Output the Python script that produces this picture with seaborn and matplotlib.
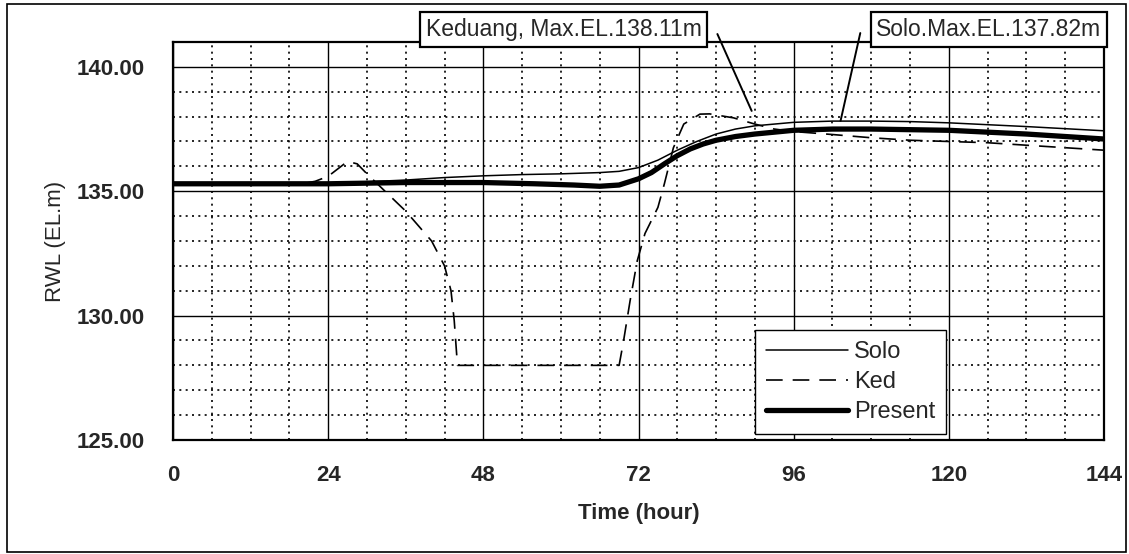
import numpy as np
import pandas as pd
import seaborn as sns
import matplotlib.pyplot as plt
from matplotlib.patches import Rectangle
from matplotlib.ticker import MultipleLocator, FormatStrFormatter

# reservoir water level (EL.m) vs time (hour)
solo_h = [0, 12, 24, 30, 36, 42, 48, 54, 60, 66, 69, 72, 75, 78, 81, 84, 87, 90, 96, 102, 108, 114, 120, 132, 144]
solo_v = [135.3, 135.3, 135.32, 135.38, 135.45, 135.55, 135.62, 135.67, 135.7, 135.75, 135.8, 135.95, 136.25,
          136.65, 137.0, 137.3, 137.5, 137.63, 137.77, 137.82, 137.82, 137.8, 137.75, 137.6, 137.43]

ked_h = [0, 20, 22, 24, 25.5, 27, 28.5, 30, 32, 34, 36, 38, 40, 42, 43, 43.5, 44, 69, 69.7, 70.7, 71.8, 73, 75,
         76, 77.4, 79, 81.5, 83, 86.7, 90, 93, 96, 102, 108, 114, 120, 126, 132, 138, 144]
ked_v = [135.3, 135.3, 135.4, 135.6, 135.9, 136.2, 136.1, 135.7, 135.2, 134.7, 134.2, 133.6, 133.0, 132.0, 131.0,
         129.8, 128.0, 128.0, 129.0, 130.6, 132.2, 133.3, 134.35, 135.3, 136.75, 137.7, 138.1, 138.11, 137.95,
         137.7, 137.5, 137.4, 137.28, 137.15, 137.05, 137.0, 136.95, 136.85, 136.75, 136.65]

pres_h = [0, 12, 24, 36, 48, 56, 62, 66, 69, 72, 74, 76, 78, 80, 82, 84, 87, 90, 96, 102, 108, 120, 132, 144]
pres_v = [135.3, 135.3, 135.3, 135.35, 135.35, 135.3, 135.25, 135.2, 135.25, 135.5, 135.75, 136.1, 136.43, 136.7,
          136.9, 137.05, 137.2, 137.3, 137.45, 137.5, 137.5, 137.45, 137.3, 137.1]

x_ticks = [0, 24, 48, 72, 96, 120, 144]
y_ticks = [125, 130, 135, 140]

sns.set_style('white')
plt.rcParams['font.family'] = ['Liberation Sans', 'DejaVu Sans']
plt.rcParams['font.size'] = 16

fig = plt.figure(figsize=(11.29, 5.54), dpi=100, facecolor='w')
ax = fig.add_axes([0.1532, 0.2058, 0.8247, 0.7184])

solo = pd.DataFrame({'h': solo_h, 'v': solo_v})
ked = pd.DataFrame({'h': ked_h, 'v': ked_v})
pres = pd.DataFrame({'h': pres_h, 'v': pres_v})

sns.lineplot(data=solo, x='h', y='v', ax=ax, color='black', lw=1.1, label='Solo', zorder=4)
sns.lineplot(data=ked, x='h', y='v', ax=ax, color='black', lw=1.2, linestyle=(0, (10, 6)), label='Ked', zorder=4)
sns.lineplot(data=pres, x='h', y='v', ax=ax, color='black', lw=3.8, label='Present', zorder=3)

ax.set_xlim(0, 144)
ax.set_ylim(125, 141)
ax.set_xticks(x_ticks)
ax.set_yticks(y_ticks)
ax.xaxis.set_minor_locator(MultipleLocator(6))
ax.yaxis.set_minor_locator(MultipleLocator(1))
ax.yaxis.set_major_formatter(FormatStrFormatter('%.2f'))
ax.grid(which='major', color='black', lw=1.0, ls='-')
ax.grid(which='minor', color='black', lw=1.2, ls=(0, (1.2, 2.6)))
ax.set_axisbelow(True)
ax.tick_params(which='both', length=0)
ax.tick_params(axis='x', pad=18)
ax.tick_params(axis='y', pad=20)
for t in ax.get_xticklabels() + ax.get_yticklabels():
    t.set_fontweight('bold')
    t.set_fontsize(16)
for s in ax.spines.values():
    s.set_color('black')
    s.set_linewidth(1.6)

ax.set_xlabel('Time (hour)', fontsize=16, fontweight='bold', labelpad=12)
ax.set_ylabel('RWL (EL.m)', fontsize=16, labelpad=8)

leg = ax.legend(loc='lower left', bbox_to_anchor=(0.625, 0.015), fontsize=17, frameon=True, fancybox=False,
                handlelength=3.5, handletextpad=0.25, labelspacing=0.35, borderpad=0.45, borderaxespad=0)
leg.get_frame().set_edgecolor('black')
leg.get_frame().set_linewidth(1.0)
leg.get_frame().set_alpha(1)

box = dict(boxstyle='square,pad=0.25', fc='white', ec='black', lw=1.6)
ax.text(60.4, 141.5, 'Keduang, Max.EL.138.11m', ha='center', va='center', fontsize=16.5, bbox=box, zorder=6,
        clip_on=False)
ax.text(126.2, 141.5, 'Solo.Max.EL.137.82m', ha='center', va='center', fontsize=16.5, bbox=box, zorder=6,
        clip_on=False)
ax.annotate('', xy=(89.5, 138.23), xytext=(84.2, 141.32), annotation_clip=False,
            arrowprops=dict(arrowstyle='-', color='black', lw=1.4, shrinkA=0, shrinkB=0))
ax.annotate('', xy=(103.25, 137.83), xytext=(106.3, 141.36), annotation_clip=False,
            arrowprops=dict(arrowstyle='-', color='black', lw=1.4, shrinkA=0, shrinkB=0))

fig.patches.append(Rectangle((7 / 1129, 2 / 554), 1119 / 1129, 548 / 554, transform=fig.transFigure,
                             fill=False, ec='black', lw=1.2))

plt.savefig('out.png', dpi=100, facecolor='w')
